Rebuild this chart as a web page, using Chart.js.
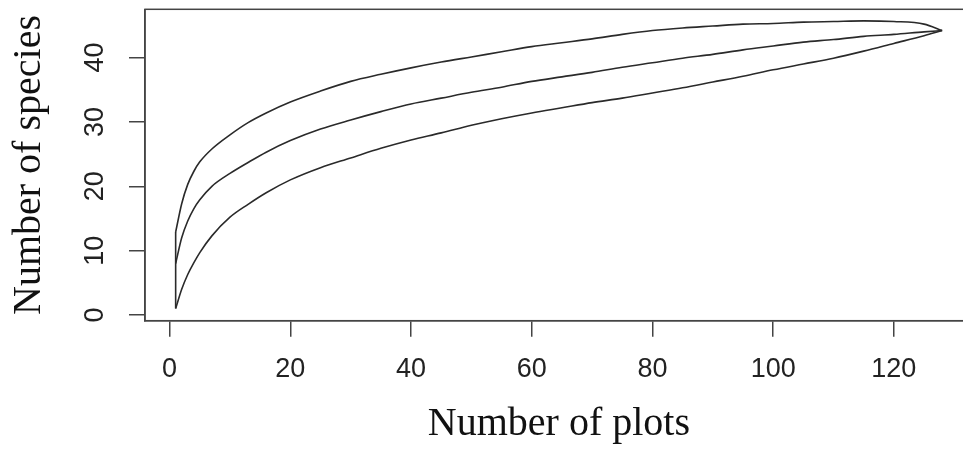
<!DOCTYPE html>
<html>
<head>
<meta charset="utf-8">
<title>Species accumulation</title>
<script src="https://cdn.jsdelivr.net/npm/chart.js@4.4.1/dist/chart.umd.min.js"></script>
<style>
  html, body { margin: 0; padding: 0; background: #fff; }
  .wrap { width: 963px; height: 451px; overflow: hidden; }
  canvas { display: block; }
</style>
</head>
<body>
<div class="wrap"><canvas id="accumChart" width="975" height="451"></canvas></div>
<script>
'use strict';

// Data (number of plots -> species)
const plots = [1, 2, 3, 4, 5, 7, 10, 13, 16, 20, 25, 30, 35, 40, 45, 50, 55, 60, 65, 70,
  75, 80, 85, 90, 95, 100, 105, 110, 115, 120, 125, 128];
const upperCI = [12.9, 17.3, 20.3, 22.3, 23.8, 25.8, 28.0, 29.9, 31.4, 33.1, 34.8, 36.3, 37.4, 38.4, 39.3, 40.1, 40.9, 41.7, 42.3, 42.9,
  43.6, 44.2, 44.6, 44.9, 45.2, 45.3, 45.5, 45.6, 45.7, 45.6, 45.2, 44.2];
const meanRichness = [8.0, 12.0, 14.6, 16.5, 17.9, 20.0, 22.0, 23.7, 25.3, 27.1, 28.9, 30.3, 31.6, 32.8, 33.7, 34.6, 35.4, 36.3, 37.0, 37.7,
  38.5, 39.2, 39.9, 40.5, 41.2, 41.8, 42.4, 42.8, 43.3, 43.6, 44.0, 44.2];
const lowerCI = [1.0, 4.0, 6.3, 8.1, 9.7, 12.3, 15.2, 17.2, 19.0, 21.0, 22.9, 24.4, 25.9, 27.2, 28.3, 29.5, 30.5, 31.4, 32.2, 33.0,
  33.7, 34.5, 35.3, 36.2, 37.1, 38.1, 39.0, 39.9, 41.0, 42.2, 43.4, 44.2];

const xTicks = [0, 20, 40, 60, 80, 100, 120];
const yTicks = [0, 10, 20, 30, 40];

(function () {
  const lineColor = '#2a2a2a';
  const axisColor = '#444';
  const textColor = '#222';

  const toPoints = (ys) => plots.map((x, i) => ({ x: x, y: ys[i] }));

  const curve = (data) => ({
    data: data,
    borderColor: lineColor,
    borderWidth: 1.6,
    pointRadius: 0,
    fill: false,
    cubicInterpolationMode: 'monotone'
  });

  // frame round the plot region, like R's box()
  const plotBox = {
    id: 'plotBox',
    afterDraw(chart) {
      const { ctx, chartArea: a } = chart;
      ctx.save();
      ctx.strokeStyle = axisColor;
      ctx.lineWidth = 1.5;
      ctx.strokeRect(a.left, a.top, a.right - a.left, a.bottom - a.top);
      ctx.restore();
    }
  };

  const el = document.getElementById('accumChart');
  new Chart(el, {
    type: 'line',
    data: {
      datasets: [
        curve(toPoints(upperCI)),
        curve(toPoints(meanRichness)),
        curve(toPoints(lowerCI)),
        // closes the envelope at the first plot
        curve([{ x: plots[0], y: lowerCI[0] }, { x: plots[0], y: upperCI[0] }])
      ]
    },
    options: {
      responsive: false,
      animation: false,
      layout: { padding: { top: 9.3, right: 2.2, bottom: 0, left: 0 } },
      plugins: {
        legend: { display: false },
        tooltip: { enabled: false }
      },
      scales: {
        x: {
          type: 'linear',
          min: -4.08,
          max: 133.08,
          afterBuildTicks: (s) => { s.ticks = xTicks.map(v => ({ value: v })); },
          afterFit: (s) => {
            s.height = 130.3;
            s.paddingLeft = 0;
            s.paddingRight = 0;
          },
          grid: { drawOnChartArea: false, drawTicks: true, tickLength: 16, color: axisColor, lineWidth: 1.5 },
          border: { display: true, color: axisColor, width: 1.5 },
          ticks: {
            autoSkip: false,
            maxRotation: 0,
            padding: 17,
            color: textColor,
            font: { family: 'Liberation Sans', size: 27 }
          },
          title: {
            display: true,
            text: 'Number of plots',
            color: '#111',
            font: { family: 'Liberation Serif', size: 40 },
            padding: { top: 0, bottom: 3 }
          }
        },
        y: {
          type: 'linear',
          min: -0.88,
          max: 47.5,
          afterBuildTicks: (s) => { s.ticks = yTicks.map(v => ({ value: v })); },
          afterFit: (s) => {
            s.width = 145;
            s.paddingTop = 0;
            s.paddingBottom = 0;
          },
          grid: { drawOnChartArea: false, drawTicks: true, tickLength: 16, color: axisColor, lineWidth: 1.5 },
          border: { display: true, color: axisColor, width: 1.5 },
          ticks: {
            autoSkip: false,
            minRotation: 90,
            maxRotation: 90,
            crossAlign: 'center',
            padding: 18,
            color: textColor,
            font: { family: 'Liberation Sans', size: 27 }
          },
          title: {
            display: true,
            text: 'Number of species',
            color: '#111',
            font: { family: 'Liberation Serif', size: 40 },
            padding: { top: 5, bottom: 0 }
          }
        }
      }
    },
    plugins: [plotBox]
  });
})();
</script>
</body>
</html>
